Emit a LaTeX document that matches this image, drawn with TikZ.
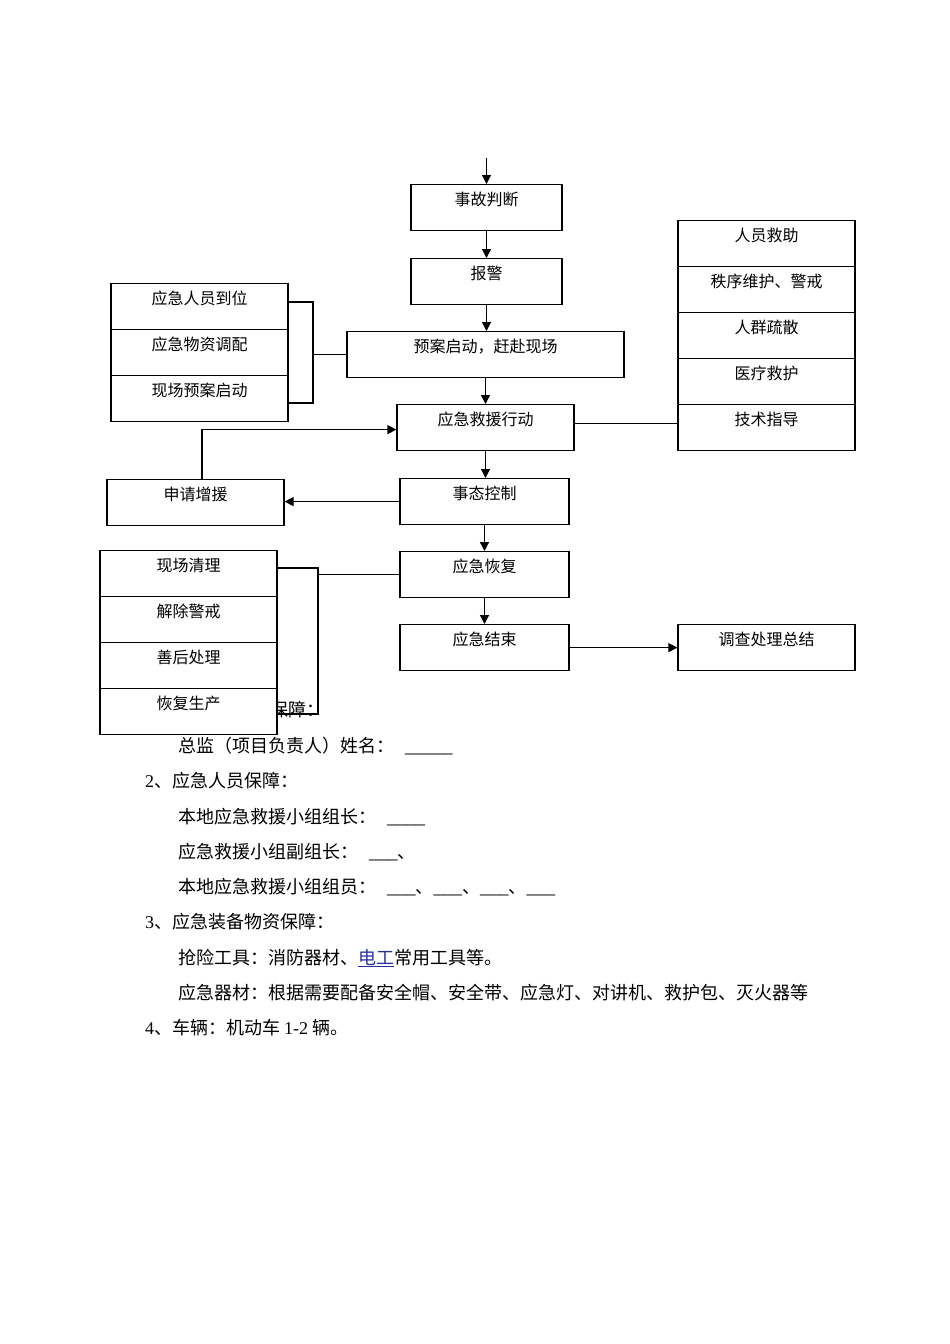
\documentclass[tikz,border=0pt]{standalone}
\usepackage{fontspec}
\setmainfont{Liberation Serif}
\newfontfamily\cjk{Noto Sans CJK SC}
\usetikzlibrary{arrows.meta}
\definecolor{linkblue}{RGB}{40,50,150}
\newcommand{\blank}[1]{{\rmfamily\fontsize{19}{19}\selectfont#1}}
\tikzset{
 box/.style={draw, line width=1.2pt, fill=white, inner xsep=0pt, inner ysep=0pt, minimum height=46pt, text height=21pt, text depth=25pt, font=\cjk\fontsize{16}{16}\selectfont, anchor=north},
 ln/.style={line width=1.2pt},
 arr/.style={line width=1.2pt, -{Triangle[length=9pt,width=9pt]}},
 body/.style={anchor=base west, inner sep=0pt, font=\cjk\fontsize{18}{18}\selectfont},
}
\begin{document}
\begin{tikzpicture}[x=1pt,y=-1pt]
\useasboundingbox (0,0) rectangle (950,1344);
% body text
\node[body] (t0) at (270,716) {保障：};
\node[body] (t1) at (178,752) {总监（项目负责人）姓名：\hspace{11pt}\blank{\_\_\_\_\_}};
\node[body] (t2) at (145,787) {{\rmfamily 2}、应急人员保障：};
\node[body] (t3) at (178,823) {本地应急救援小组组长：\hspace{11pt}\blank{\_\_\_\_}};
\node[body] (t4) at (178,858) {应急救援小组副组长：\hspace{11pt}\blank{\_\_\_}、};
\node[body] (t5) at (178,893) {本地应急救援小组组员：\hspace{11pt}\blank{\_\_\_}、\blank{\_\_\_}、\blank{\_\_\_}、\blank{\_\_\_}};
\node[body] (t6) at (145,928) {{\rmfamily 3}、应急装备物资保障：};
\node[body] (t7) at (178,964) {抢险工具：消防器材、{\color{linkblue}\underline{电工}}常用工具等。};
\node[body] (t8) at (178,999) {应急器材：根据需要配备安全帽、安全带、应急灯、对讲机、救护包、灭火器等};
\node[body] (t9) at (145,1034) {{\rmfamily 4}、车辆：机动车 {\rmfamily 1-2} 辆。};
% main column
\coordinate (top) at (486.5,158);
\node[box, minimum width=151pt] (b1) at (486.5,184) {事故判断};
\node[box, minimum width=151pt] (b2) at (486.5,258) {报警};
\node[box, minimum width=277pt] (b3) at (485.5,331) {预案启动，赶赴现场};
\node[box, minimum width=177pt] (b4) at (485.5,404) {应急救援行动};
\node[box, minimum width=169pt] (b5) at (484.5,478) {事态控制};
\node[box, minimum width=169pt] (b6) at (484.5,551) {应急恢复};
\node[box, minimum width=169pt] (b7) at (484.5,624) {应急结束};
\node[box, minimum width=177pt] (b8) at (766.5,624) {调查处理总结};
% left group
\node[box, minimum width=177pt] (l1) at (199.5,283) {应急人员到位};
\node[box, minimum width=177pt] (l2) at (199.5,329) {应急物资调配};
\node[box, minimum width=177pt] (l3) at (199.5,375) {现场预案启动};
\node[box, minimum width=177pt] (sh) at (195.5,479) {申请增援};
% right group
\node[box, minimum width=177pt] (r1) at (766.5,220) {人员救助};
\node[box, minimum width=177pt] (r2) at (766.5,266) {秩序维护、警戒};
\node[box, minimum width=177pt] (r3) at (766.5,312) {人群疏散};
\node[box, minimum width=177pt] (r4) at (766.5,358) {医疗救护};
\node[box, minimum width=177pt] (r5) at (766.5,404) {技术指导};
% bottom-left group
\node[box, minimum width=177pt] (q1) at (188.5,550) {现场清理};
\node[box, minimum width=177pt] (q2) at (188.5,596) {解除警戒};
\node[box, minimum width=177pt] (q3) at (188.5,642) {善后处理};
\node[box, minimum width=177pt] (q4) at (188.5,688) {恢复生产};
% arrows
\draw[arr] (top) -- (b1.north);
\draw[arr] (b1.south) -- (b1.south |- b2.north);
\draw[arr] (b2.south) -- (b2.south |- b3.north);
\draw[arr] (b3.south) -- (b3.south |- b4.north);
\draw[arr] (b4.south) -- (b4.south |- b5.north);
\draw[arr] (b5.south) -- (b5.south |- b6.north);
\draw[arr] (b6.south) -- (b6.south |- b7.north);
\draw[arr] (b7.east) -- (b8.west);
\draw[arr] (b5.west) -- (b5.west -| sh.east);
\draw[arr] ([xshift=6.5pt]sh.north) |- ([yshift=-2pt]b4.west);
\draw[ln] ([yshift=4.5pt]b4.east) -- ([yshift=4.5pt]b4.east -| r5.west);
% brackets
\coordinate (k1) at (313,302);
\coordinate (k2) at (313,403);
\draw[ln] (k1 -| l1.east) -- (k1) -- (k2) -- (k2 -| l3.east);
\draw[ln] (k1 |- b3.west) -- (b3.west);
\coordinate (m1) at (318,568);
\coordinate (m2) at (318,714);
\draw[ln] (m1 -| q1.east) -- (m1) -- (m2) -- (m2 -| q4.east);
\draw[ln] (m1 |- b6.west) -- (b6.west);
\end{tikzpicture}
\end{document}
